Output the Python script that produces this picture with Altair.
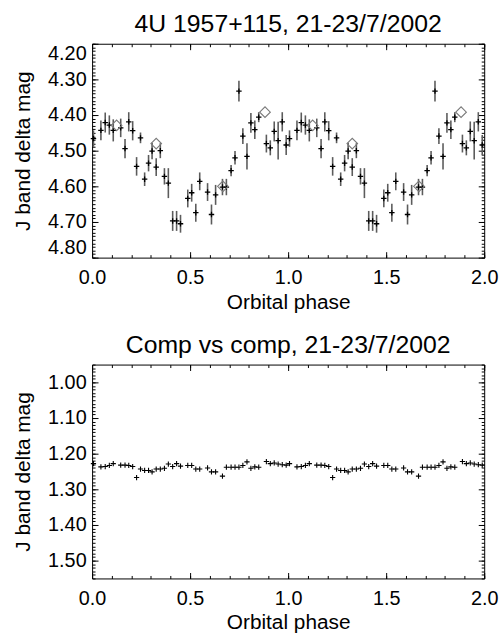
import altair as alt
import pandas as pd

# ---------------- data (phase 0-1, folded light curve, shown twice) -------------
phase = [0.007, 0.045, 0.067, 0.088, 0.108, 0.146, 0.168, 0.187, 0.207, 0.227,
         0.247, 0.268, 0.288, 0.306, 0.327, 0.348, 0.369, 0.389, 0.411, 0.431,
         0.451, 0.488, 0.508, 0.529, 0.549, 0.589, 0.609, 0.630, 0.665, 0.685,
         0.709, 0.729, 0.749, 0.769, 0.790, 0.810, 0.830, 0.850, 0.889, 0.909,
         0.929, 0.949, 0.970, 0.990]

target_mag = [4.466, 4.443, 4.421, 4.428, 4.443, 4.436, 4.494, 4.419, 4.444, 4.544,
              4.464, 4.580, 4.535, 4.501, 4.546, 4.500, 4.572, 4.591, 4.697, 4.697,
              4.705, 4.634, 4.618, 4.674, 4.586, 4.616, 4.679, 4.624, 4.602, 4.602,
              4.556, 4.520, 4.333, 4.459, 4.516, 4.422, 4.441, 4.406, 4.480, 4.492,
              4.446, 4.472, 4.419, 4.484]

target_err = [0.023, 0.028, 0.028, 0.027, 0.031, 0.026, 0.027, 0.027, 0.027, 0.026,
              0.015, 0.019, 0.023, 0.023, 0.025, 0.021, 0.023, 0.042, 0.028, 0.028,
              0.025, 0.025, 0.025, 0.025, 0.025, 0.025, 0.028, 0.028, 0.023, 0.023,
              0.016, 0.019, 0.029, 0.022, 0.037, 0.028, 0.026, 0.014, 0.025, 0.021,
              0.028, 0.053, 0.027, 0.028]

comp_mag = [1.228, 1.237, 1.236, 1.233, 1.228, 1.232, 1.232, 1.233, 1.236, 1.267,
            1.243, 1.247, 1.247, 1.251, 1.243, 1.243, 1.241, 1.229, 1.236, 1.228,
            1.235, 1.233, 1.233, 1.243, 1.243, 1.240, 1.251, 1.251, 1.263, 1.238,
            1.238, 1.238, 1.238, 1.233, 1.223, 1.241, 1.237, 1.238, 1.222, 1.228,
            1.226, 1.229, 1.231, 1.232]

# open diamonds (phase-binned means)
dia_phase = [0.125, 0.327, 0.667, 0.882]
dia_mag = [4.429, 4.480, 4.600, 4.392]

cycles = [0, 1]

# ticks / labels
x_major = [0.0, 0.5, 1.0, 1.5, 2.0]
x_minor = [round(0.1 * i, 1) for i in range(21)]
top_major = [4.20, 4.30, 4.40, 4.50, 4.60, 4.70, 4.80]
top_minor = [round(4.20 + 0.01 * i, 2) for i in range(61)]
bot_major = [1.00, 1.10, 1.20, 1.30, 1.40, 1.50]
bot_minor = [round(0.95 + 0.01 * i, 2) for i in range(61)]

top_title = "4U 1957+115, 21-23/7/2002"
bot_title = "Comp vs comp, 21-23/7/2002"
x_title = "Orbital phase"
y_title = "J band delta mag"

# ---------------- tables -------------
rows = []
for c in cycles:
    for p, m, e, cm in zip(phase, target_mag, target_err, comp_mag):
        rows.append({"phase": p + c, "mag": m, "lo": m - e, "hi": m + e, "comp": cm})
df = pd.DataFrame(rows)
df_dia = pd.DataFrame([{"phase": p + c, "mag": m}
                       for c in cycles for p, m in zip(dia_phase, dia_mag)])

FONT = "Liberation Sans"
W, H = 396, 216
CROSS = "M-1,0L1,0M0,-1L0,1"

xscale = alt.Scale(domain=[0, 2], nice=False, zero=False)
top_scale = alt.Scale(domain=[4.20, 4.80], reverse=True, nice=False, zero=False)
bot_scale = alt.Scale(domain=[0.95, 1.55], reverse=True, nice=False, zero=False)


def label_axes(ymaj, flush):
    xa = alt.Axis(orient="bottom", values=x_major, format=".1f", ticks=False,
                  domain=False, grid=False, labelFont=FONT, labelFontSize=20,
                  labelColor="black", labelPadding=10, labelFlush=False,
                  title=x_title, titleFont=FONT, titleFontSize=21,
                  titleFontWeight="normal", titleColor="black", titlePadding=4)
    ya = alt.Axis(orient="left", values=ymaj, format=".2f", ticks=False,
                  domain=False, grid=False, labelFont=FONT, labelFontSize=20,
                  labelColor="black", labelPadding=6, labelFlush=flush,
                  title=y_title, titleFont=FONT, titleFontSize=21,
                  titleFontWeight="normal", titleColor="black", titlePadding=14)
    return xa, ya


def tick_layers(yfield, yscale, ymaj, ymin):
    out = []
    for ox, oy in [("bottom", "left"), ("top", "right")]:
        for vx, vy, size in [(x_major, ymaj, 6), (x_minor, ymin, 3)]:
            out.append(
                alt.Chart(df).mark_point(opacity=0).encode(
                    x=alt.X("phase:Q", scale=xscale,
                            axis=alt.Axis(orient=ox, values=vx, tickSize=size,
                                          offset=-size, labels=False, domain=False,
                                          grid=False, title=None, tickColor="black",
                                          tickWidth=1)),
                    y=alt.Y(f"{yfield}:Q", scale=yscale,
                            axis=alt.Axis(orient=oy, values=vy, tickSize=size,
                                          offset=-size, labels=False, domain=False,
                                          grid=False, title=None, tickColor="black",
                                          tickWidth=1)),
                )
            )
    return out


def title(text):
    return alt.TitleParams(text=text, font=FONT, fontSize=25, fontWeight="normal",
                           color="black", anchor="middle", offset=6)


# ---------------- top panel -------------
xa, ya = label_axes(top_major, True)
err = alt.Chart(df).mark_rule(color="#5c5c5c", strokeWidth=1.6).encode(
    x=alt.X("phase:Q", scale=xscale, axis=xa),
    y=alt.Y("lo:Q", scale=top_scale, axis=ya),
    y2="hi:Q",
)
pts = alt.Chart(df).mark_point(shape=CROSS, filled=False, color="black",
                               size=30, strokeWidth=1.3, opacity=1).encode(
    x=alt.X("phase:Q", scale=xscale, axis=None),
    y=alt.Y("mag:Q", scale=top_scale, axis=None),
)
dia = alt.Chart(df_dia).mark_point(shape="diamond", filled=False, color="#7a7a7a",
                                   size=115, strokeWidth=1.1, opacity=1).encode(
    x=alt.X("phase:Q", scale=xscale, axis=None),
    y=alt.Y("mag:Q", scale=top_scale, axis=None),
)
top = alt.layer(err, pts, dia, *tick_layers("mag", top_scale, top_major, top_minor)
                ).resolve_axis(x="independent", y="independent").properties(
    width=W, height=H, title=title(top_title))

# ---------------- bottom panel -------------
xa2, ya2 = label_axes(bot_major, False)
cpts = alt.Chart(df).mark_point(shape=CROSS, filled=False, color="black",
                                size=28, strokeWidth=1.1, opacity=1).encode(
    x=alt.X("phase:Q", scale=xscale, axis=xa2),
    y=alt.Y("comp:Q", scale=bot_scale, axis=ya2),
)
bottom = alt.layer(cpts, *tick_layers("comp", bot_scale, bot_major, bot_minor)
                   ).resolve_axis(x="independent", y="independent").properties(
    width=W, height=H, title=title(bot_title))

chart = alt.vconcat(top, bottom, spacing=20).properties(
    padding={"left": 12, "top": 9, "right": 5, "bottom": 5},
    background="white",
).configure_view(stroke="black", strokeWidth=1)

chart.save("out.html", embed_options={"renderer": "svg", "actions": False})
